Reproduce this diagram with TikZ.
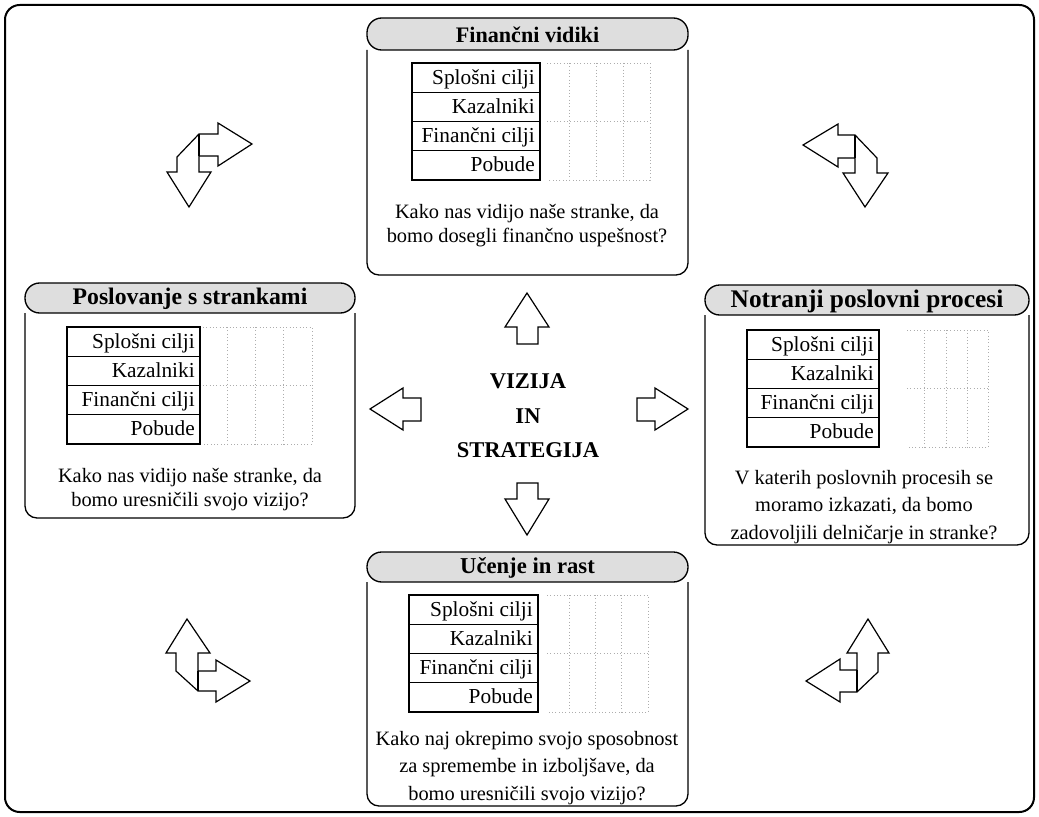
\documentclass[tikz,border=0pt]{standalone}
\usepackage{fontspec}
\setmainfont{Liberation Serif}

% one panel: rounded body with a shaded title bar on top
% #1 name, #2 left, #3 right, #4 top, #5 title-bar bottom, #6 bottom, #7 title, #8 title size (pt)
\newcommand\bscpanel[8]{%
  \draw[boxline, fill=white, rounded corners=9pt] (#2,#5) |- (#3,#6) -- (#3,#5);
  \draw[header] (#2,#4) rectangle (#3,#5);
  \node[title, font=\bfseries\fontsize{#8}{#8}\selectfont] (#1) at ({(#2+#3)/2},{(#4+#5)/2+1}) {#7};
}

% four-row table of measures: #1 prefix, #2 left, #3 right, #4 top, #5 row height
\newcommand\bsctable[5]{%
  \foreach \lbl [count=\i] in {Splošni cilji, Kazalniki, Finančni cilji, Pobude}{
    \draw[cell] (#2,{#4+(\i-1)*#5}) rectangle (#3,{#4+\i*#5});
    \node[celltext] (#1-\i) at ({#3-5},{#4+(\i-0.5)*#5+6.5}) {\lbl};
  }
}

% faint dotted ruling beside a table: #1 left, #2 right, #3 top, #4 bottom
\newcommand\bscgrid[4]{%
  \draw[grid] (#1,#3) -- (#2,#3) -- (#2,#4) -- (#1,#4);
  \foreach \f in {0.22,0.48,0.74}{
    \draw[grid] ({#1+\f*(#2-#1)},#3) -- ({#1+\f*(#2-#1)},#4);
  }
  \draw[grid] (#1,{(#3+#4)/2}) -- (#2,{(#3+#4)/2});
}

\begin{document}
\begin{tikzpicture}[x=0.75pt,y=-0.75pt,
  frame/.style={line width=1.5pt, rounded corners=11pt},
  boxline/.style={line width=1pt},
  header/.style={boxline, fill=black!13, rounded corners=11pt},
  title/.style={inner sep=0pt},
  cell/.style={line width=0.8pt},
  celltext/.style={font=\fontsize{16}{18}\selectfont, anchor=base east, inner sep=0pt},
  grid/.style={black!32, line width=0.5pt, dotted},
  question/.style={align=center, inner sep=0pt},
  blockarrow/.style={line width=0.9pt, fill=white, line join=miter},
]
\useasboundingbox (0,0) rectangle (1039,817);

% outer frame
\draw[frame] (5,5) rectangle (1034,812);

% ---- Finančni vidiki (top)
\bscpanel{fin}{367}{688}{18}{50}{275}{Finančni vidiki}{16.6}
\bsctable{fint}{412}{540}{63}{29.25}
\bscgrid{547}{650}{63}{180}
\node[question, font=\fontsize{15.3}{18}\selectfont] (q1) at (527,226)
  {Kako nas vidijo naše stranke, da\\bomo dosegli finančno uspešnost?};

% ---- Poslovanje s strankami (left)
\bscpanel{cust}{25}{355}{283}{313}{518}{Poslovanje s strankami}{17.8}
\bsctable{custt}{67}{200}{327}{29.25}
\bscgrid{203}{312}{327}{444}
\node[question, font=\fontsize{15.3}{18}\selectfont] (q2) at (190,490)
  {Kako nas vidijo naše stranke, da\\bomo uresničili svojo vizijo?};

% ---- Notranji poslovni procesi (right)
\bscpanel{proc}{705}{1029}{285}{315}{545}{Notranji poslovni procesi}{19}
\bsctable{proct}{747}{879}{330}{29.25}
\bscgrid{907}{988}{330}{447}
\node[question, font=\fontsize{15.3}{20.7}\selectfont] (q3) at (864,507)
  {V katerih poslovnih procesih se\\moramo izkazati, da bomo\\zadovoljili delničarje in stranke?};

% ---- Učenje in rast (bottom)
\bscpanel{learn}{367}{688}{552}{582}{806}{Učenje in rast}{17}
\bsctable{learnt}{409}{538}{595}{29.25}
\bscgrid{547}{648}{595}{712}
\node[question, font=\fontsize{15.3}{20.4}\selectfont] (q4) at (527,768)
  {Kako naj okrepimo svojo sposobnost\\za spremembe in izboljšave, da\\bomo uresničili svojo vizijo?};

% ---- centre
\node[question, font=\bfseries\fontsize{16.9}{26}\selectfont] (vis) at (528,416)
  {VIZIJA\\IN\\STRATEGIJA};

% block arrows out of the centre
\draw[blockarrow] (517,344) -- (517,327) -- (505,327) -- (527,293) -- (549,327) -- (538,327) -- (538,344) -- cycle;
\draw[blockarrow] (517,483) -- (538,483) -- (538,499) -- (549,499) -- (527,535) -- (505,499) -- (517,499) -- cycle;
\draw[blockarrow] (421,398) -- (403,398) -- (403,388) -- (370,409) -- (403,430) -- (403,421) -- (421,421) -- cycle;
\draw[blockarrow] (637,398) -- (655,398) -- (655,388) -- (688,409) -- (655,430) -- (655,421) -- (637,421) -- cycle;

% split arrows in the corners
\draw[blockarrow] (199,134) -- (218,134) -- (218,123) -- (252,144) -- (218,166) -- (218,156) -- (199,156)
  -- (199,172) -- (211,172) -- (189,207) -- (167,172) -- (177,172) -- (177,157) -- cycle;
\draw[blockarrow] (199,134) -- (199,156);

\draw[blockarrow] (855,135) -- (838,135) -- (838,124) -- (803,145) -- (838,167) -- (838,158) -- (855,158)
  -- (855,173) -- (843,173) -- (865,207) -- (888,173) -- (877,173) -- (877,158) -- cycle;
\draw[blockarrow] (855,135) -- (855,158);

\draw[blockarrow] (198,691) -- (216,691) -- (216,702) -- (250,681) -- (216,660) -- (216,671) -- (198,671)
  -- (198,653) -- (210,653) -- (187,619) -- (166,653) -- (176,653) -- (176,671) -- cycle;
\draw[blockarrow] (198,671) -- (198,691);

\draw[blockarrow] (857,692) -- (840,692) -- (840,702) -- (806,681) -- (840,659) -- (840,670) -- (857,670)
  -- (857,653) -- (847,653) -- (868,619) -- (889,653) -- (878,653) -- (878,672) -- cycle;
\draw[blockarrow] (857,670) -- (857,692);

\end{tikzpicture}
\end{document}
